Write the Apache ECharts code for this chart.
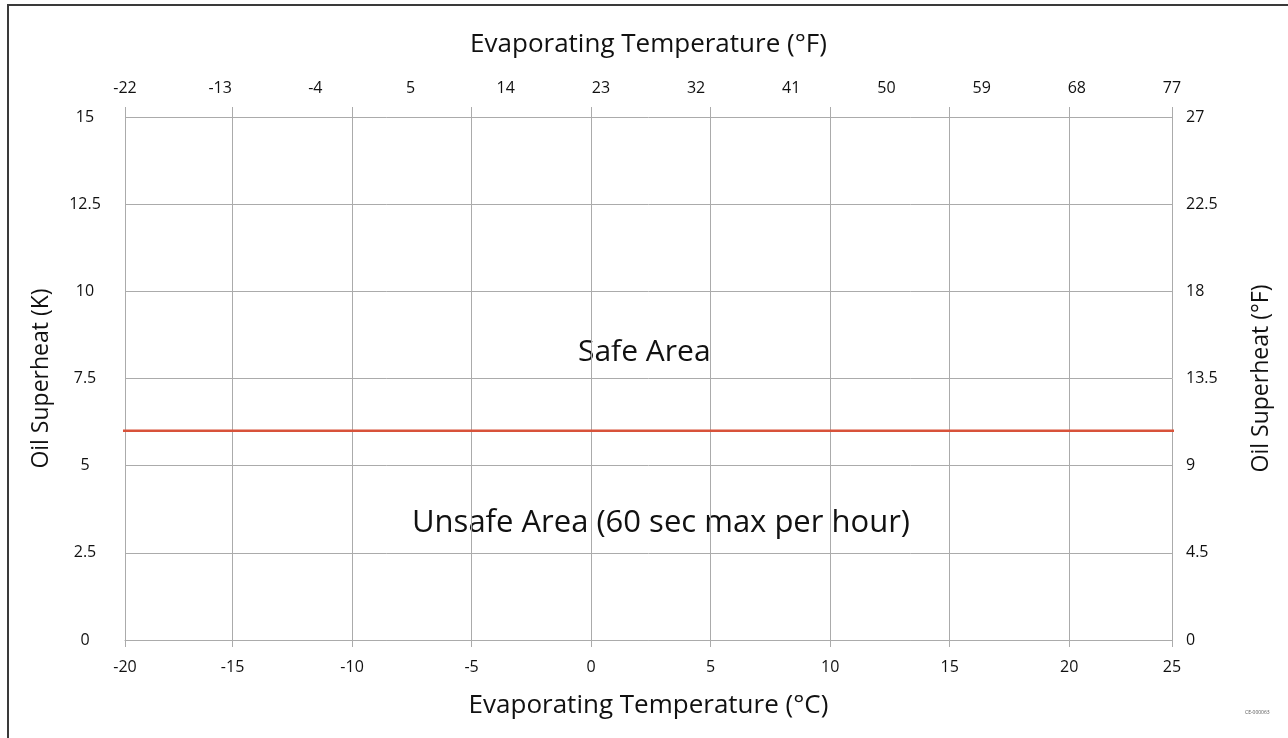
<!DOCTYPE html>
<html>
<head>
<meta charset="utf-8">
<script src="https://cdn.jsdelivr.net/npm/echarts@6/dist/echarts.min.js"></script>
<style>
  html, body { margin: 0; padding: 0; background: #fff; }
  #chart { width: 1288px; height: 738px; }
</style>
</head>
<body>
<div id="chart"></div>
<script>
// ---- data ----
// Bottom axis (°C): tick labels and their values
const cTickLabels = ['-20', '-15', '-10', '-5', '0', '5', '10', '15', '20', '25'];
const cTickValues = [-20, -15, -10, -5, 0, 5, 10, 15, 20, 25];
// Visible °C extent of the plot in the reference (its end labels sit at the plot edges)
const cVisibleMin = -19.5;
const cVisibleMax = 24.3;
// Top axis (°F) tick labels, evenly spread across the plot
const fTickLabels = ['-22', '-13', '-4', '5', '14', '23', '32', '41', '50', '59', '68', '77'];
// Left axis (K) and right axis (°F) ranges
const kRange = [0, 15], kInterval = 2.5;
const fRange = [0, 27], fInterval = 4.5;
// Limit line: oil superheat 6 K across the evaporating temperature range
const limitTempC = [-20, 25];
const limitSuperheatK = [6, 6];
// Area annotations
const safeLabel = 'Safe Area';
const unsafeLabel = 'Unsafe Area (60 sec max per hour)';

// ---- chart ----
const FONT = '"Open Sans", "Noto Sans", sans-serif';
const GRID = '#ababab';
const TXT = '#111';

// positions of the °C ticks on the visible axis (edge labels pinned to the plot edges)
const cTickPos = cTickValues.map((v, i) =>
  i === 0 ? cVisibleMin : (i === cTickValues.length - 1 ? cVisibleMax : v));
function cLabelFor(v) {
  let best = 0;
  cTickPos.forEach((p, i) => { if (Math.abs(p - v) < Math.abs(cTickPos[best] - v)) best = i; });
  return cTickLabels[best];
}

const chart = echarts.init(document.getElementById('chart'), null, { renderer: 'canvas' });

const option = {
  animation: false,
  backgroundColor: '#fff',
  textStyle: { fontFamily: FONT },
  grid: { left: 125, right: 116, top: 117, bottom: 98, containLabel: false },
  xAxis: [
    {
      type: 'value', position: 'bottom',
      min: cVisibleMin, max: cVisibleMax,
      name: 'Evaporating Temperature (°C)', nameLocation: 'middle', nameGap: 53,
      nameTextStyle: { fontSize: 26, color: TXT, fontFamily: FONT },
      axisLine: { show: true, lineStyle: { color: GRID, width: 1 } },
      axisTick: { show: true, length: 7, customValues: cTickPos, lineStyle: { color: GRID } },
      axisLabel: { customValues: cTickPos, formatter: v => cLabelFor(v), fontSize: 16, color: TXT, margin: 19, fontFamily: FONT },
      splitLine: { show: true, lineStyle: { color: GRID, width: 1 } }
    },
    {
      type: 'category', position: 'top', data: fTickLabels, boundaryGap: false,
      name: 'Evaporating Temperature (°F)', nameLocation: 'middle', nameGap: 59,
      nameTextStyle: { fontSize: 26, color: TXT, fontFamily: FONT },
      axisLine: { show: false }, axisTick: { show: false },
      axisLabel: { fontSize: 16, color: TXT, margin: 21, interval: 0, fontFamily: FONT },
      splitLine: { show: false }
    },
    {
      type: 'value', position: 'top', min: cVisibleMin, max: cVisibleMax,
      axisLine: { show: false },
      axisTick: { show: true, length: 10, customValues: cTickPos, lineStyle: { color: GRID } },
      axisLabel: { show: false },
      splitLine: { show: false }
    }
  ],
  yAxis: [
    {
      type: 'value', position: 'left', min: kRange[0], max: kRange[1], interval: kInterval,
      name: 'Oil Superheat (K)', nameLocation: 'middle', nameGap: 72, nameRotate: 90,
      nameTextStyle: { fontSize: 23, color: TXT, fontFamily: FONT },
      axisLine: { show: false },
      axisTick: { show: true, length: 4, lineStyle: { color: GRID } },
      axisLabel: { fontSize: 16, color: TXT, margin: 40, align: 'center', fontFamily: FONT },
      splitLine: { show: true, lineStyle: { color: GRID, width: 1 } }
    },
    {
      type: 'value', position: 'right', min: fRange[0], max: fRange[1], interval: fInterval,
      name: 'Oil Superheat (°F)', nameLocation: 'middle', nameGap: 78, nameRotate: 90,
      nameTextStyle: { fontSize: 23, color: TXT, fontFamily: FONT },
      axisLine: { show: false }, axisTick: { show: false },
      axisLabel: { fontSize: 16, color: TXT, margin: 14, fontFamily: FONT },
      splitLine: { show: false }
    }
  ],
  series: [
    {
      type: 'line', xAxisIndex: 0, yAxisIndex: 0,
      data: limitTempC.map((x, i) => [x, limitSuperheatK[i]]),
      showSymbol: false, symbol: 'none', clip: true,
      lineStyle: { color: '#d8523a', width: 2.5 }
    }
  ],
  graphic: [
    { type: 'rect', shape: { x: 8, y: 5, width: 1400, height: 900 }, style: { fill: 'none', stroke: '#3a3a3a', lineWidth: 2 }, silent: true },
    { type: 'text', left: 578, top: 337, style: { text: safeLabel, font: '30px ' + FONT, fill: TXT } },
    { type: 'text', left: 412, top: 508, style: { text: unsafeLabel, font: '31px ' + FONT, fill: TXT } },
    { type: 'text', left: 1245, top: 710, style: { text: 'CE-000063', font: '5px ' + FONT, fill: '#555' } }
  ]
};
chart.setOption(option);
</script>
</body>
</html>
